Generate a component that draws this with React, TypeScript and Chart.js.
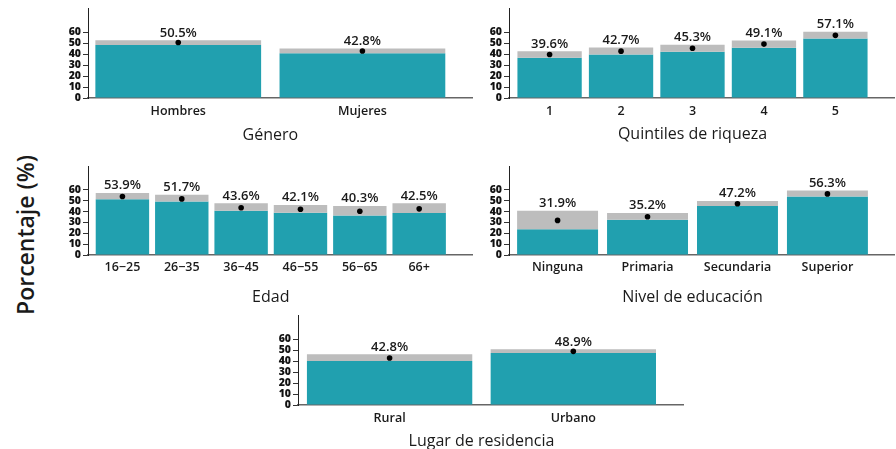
import React, { useEffect, useRef } from "react";
import { Chart, registerables } from "chart.js";

Chart.register(...registerables);

// ---------- data ----------
const generoCats = ["Hombres", "Mujeres"];
const generoEst = [50.5, 42.8];
const generoLow = [48.4, 40.7];
const generoHigh = [52.7, 45.2];

const quintilCats = ["1", "2", "3", "4", "5"];
const quintilEst = [39.6, 42.7, 45.3, 49.1, 57.1];
const quintilLow = [36.6, 39.7, 42.1, 45.8, 54.1];
const quintilHigh = [42.7, 46.1, 48.6, 52.3, 60.3];

const edadCats = ["16\u221225", "26\u221235", "36\u221245", "46\u221255", "56\u221265", "66+"];
const edadEst = [53.9, 51.7, 43.6, 42.1, 40.3, 42.5];
const edadLow = [51.3, 49.2, 40.8, 39.0, 36.5, 38.7];
const edadHigh = [57.2, 55.4, 47.6, 46.1, 45.2, 47.6];

const educCats = ["Ninguna", "Primaria", "Secundaria", "Superior"];
const educEst = [31.9, 35.2, 47.2, 56.3];
const educLow = [23.8, 32.5, 45.2, 53.8];
const educHigh = [40.8, 38.7, 49.8, 59.4];

const resCats = ["Rural", "Urbano"];
const resEst = [42.8, 48.9];
const resLow = [40.0, 47.4];
const resHigh = [46.2, 50.8];

const yTickValues = [0, 10, 20, 30, 40, 50, 60];
const yAxisMax = 82;

const yAxisLabel = "Porcentaje (%)";

// ---------- styles ----------
const FONT = '"Open Sans", "Noto Sans", sans-serif';
const TEAL = "#21a0af";
const GRAY = "#bdbdbd";
const TEXT = "#1a1a1a";

type Layout = {
  left: number;
  top: number;
  width: number;
  height: number;
  xAxisH: number;
  xmin: number;
  xmax: number;
  titleOff: number;
  tickPad: number;
};

type PanelProps = {
  cats: string[];
  est: number[];
  low: number[];
  high: number[];
  title: string;
  lay: Layout;
};

function Panel({ cats, est, low, high, title, lay }: PanelProps) {
  const ref = useRef<HTMLCanvasElement>(null);
  useEffect(() => {
    const annotate = {
      id: "annotate",
      afterDatasetsDraw(chart: any) {
        const { ctx, chartArea } = chart;
        const x = chart.scales.x;
        const y = chart.scales.y;
        ctx.save();
        ctx.fillStyle = TEXT;
        ctx.textAlign = "center";
        ctx.textBaseline = "alphabetic";
        ctx.font = `600 13px ${FONT}`;
        est.forEach((v, i) => {
          ctx.fillText(v.toFixed(1) + "%", x.getPixelForValue(i), y.getPixelForValue(high[i]) - 3.5);
        });
        ctx.font = `500 16px ${FONT}`;
        ctx.fillText(title, x.getPixelForValue((cats.length - 1) / 2), chartArea.bottom + lay.titleOff);
        ctx.restore();
      },
    };
    const chart = new Chart(ref.current!, {
      type: "bar",
      data: {
        datasets: [
          {
            type: "line",
            data: cats.map((_, i) => ({ x: i, y: est[i] })),
            showLine: false,
            pointRadius: 2.8,
            pointBackgroundColor: "#000",
            pointBorderColor: "#000",
            pointBorderWidth: 0,
            order: 0,
          } as any,
          {
            type: "bar",
            data: cats.map((_, i) => ({ x: i, y: [low[i], high[i]] })),
            backgroundColor: GRAY,
            grouped: false,
            barPercentage: 0.9,
            categoryPercentage: 1,
            order: 1,
          } as any,
          {
            type: "bar",
            data: cats.map((_, i) => ({ x: i, y: [0, low[i]] })),
            backgroundColor: TEAL,
            grouped: false,
            barPercentage: 0.9,
            categoryPercentage: 1,
            order: 2,
          } as any,
        ],
      },
      options: {
        animation: false,
        responsive: false,
        maintainAspectRatio: false,
        devicePixelRatio: 1,
        layout: { padding: { top: 8, left: 0, right: 0, bottom: 0 } },
        plugins: {
          legend: { display: false },
          tooltip: { enabled: false },
          title: { display: false },
        },
        scales: {
          x: {
            type: "linear",
            min: lay.xmin,
            max: lay.xmax,
            offset: false,
            grid: { display: false, drawTicks: false, offset: false },
            border: { display: true, color: "#666", width: 1.5 },
            afterBuildTicks: (s: any) => {
              s.ticks = cats.map((_, i) => ({ value: i }));
            },
            afterFit: (s: any) => {
              s.height = lay.xAxisH;
            },
            ticks: {
              autoSkip: false,
              maxRotation: 0,
              padding: lay.tickPad,
              color: TEXT,
              font: { family: FONT, size: 12.5, weight: 600 },
              callback: (v: any) => cats[v as number],
            },
          },
          y: {
            type: "linear",
            min: 0,
            max: yAxisMax,
            grid: { display: true, drawOnChartArea: false, drawTicks: true, tickLength: 5, color: "#333" },
            border: { display: true, color: "#222", width: 1 },
            afterBuildTicks: (s: any) => {
              s.ticks = yTickValues.map((v) => ({ value: v }));
            },
            afterFit: (s: any) => {
              s.width = 40;
            },
            ticks: {
              autoSkip: false,
              padding: 2,
              color: "#111",
              font: { family: FONT, size: 10.5, weight: 800, lineHeight: 1 },
            },
          },
        },
      } as any,
      plugins: [annotate],
    });
    return () => chart.destroy();
  }, []);
  return (
    <canvas
      ref={ref}
      width={lay.width}
      height={lay.height}
      style={{ position: "absolute", left: lay.left, top: lay.top, width: lay.width, height: lay.height }}
    />
  );
}

const layA: Layout = { left: 48, top: 0, width: 428, height: 152, xAxisH: 54, xmin: -0.49, xmax: 1.595, titleOff: 41.8, tickPad: 6 };
const layB: Layout = { left: 469, top: 0, width: 429, height: 152, xAxisH: 54, xmin: -0.568, xmax: 4.82, titleOff: 41, tickPad: 6 };
const layC: Layout = { left: 48, top: 158, width: 428, height: 151, xAxisH: 54, xmin: -0.58, xmax: 5.89, titleOff: 46.7, tickPad: 5 };
const layD: Layout = { left: 469, top: 158, width: 429, height: 151, xAxisH: 54, xmin: -0.54, xmax: 3.74, titleOff: 46.7, tickPad: 5 };
const layE: Layout = { left: 258, top: 307, width: 429, height: 142, xAxisH: 44, xmin: -0.4986, xmax: 1.597, titleOff: 40.7, tickPad: 6 };

export default function App() {
  return (
    <div style={{ position: "absolute", left: 0, top: 0, width: 896, height: 449, background: "#fff", overflow: "hidden" }}>
      <div
        style={{
          position: "absolute",
          left: 25,
          top: 235,
          transform: "translate(-50%, -50%) rotate(-90deg)",
          whiteSpace: "nowrap",
          fontFamily: FONT,
          fontWeight: 600,
          fontSize: 23,
          color: TEXT,
          lineHeight: 1,
        }}
      >
        {yAxisLabel}
      </div>
      <Panel cats={generoCats} est={generoEst} low={generoLow} high={generoHigh} title="Género" lay={layA} />
      <Panel cats={quintilCats} est={quintilEst} low={quintilLow} high={quintilHigh} title="Quintiles de riqueza" lay={layB} />
      <Panel cats={edadCats} est={edadEst} low={edadLow} high={edadHigh} title="Edad" lay={layC} />
      <Panel cats={educCats} est={educEst} low={educLow} high={educHigh} title="Nivel de educación" lay={layD} />
      <Panel cats={resCats} est={resEst} low={resLow} high={resHigh} title="Lugar de residencia" lay={layE} />
    </div>
  );
}
